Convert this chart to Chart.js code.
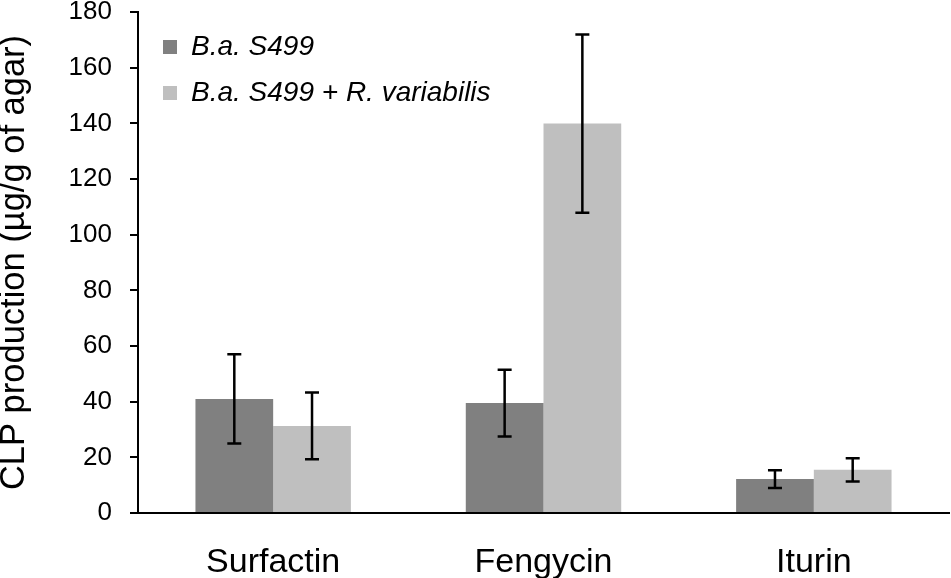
<!DOCTYPE html>
<html>
<head>
<meta charset="utf-8">
<script src="https://cdn.jsdelivr.net/npm/chart.js@4.4.1/dist/chart.umd.min.js"></script>
<style>
    html, body { margin: 0; padding: 0; background: #fff; }
    #wrap { width: 951px; height: 578px; position: relative; }
</style>
</head>
<body>
<div id="wrap"><canvas id="chart"></canvas></div>
<script>
// data
const categories = ['Surfactin', 'Fengycin', 'Iturin'];
const s499Values = [41, 39.5, 12.2];
const s499Errors = [16, 12, 3.2];
const coValues = [31.3, 139.9, 15.5];
const coErrors = [12, 32, 4.2];
const yTicks = [0, 20, 40, 60, 80, 100, 120, 140, 160, 180];

const FONT = '"Liberation Sans", Arial, sans-serif';

// error bars drawn from the bar elements and the y scale
const errorBars = {
    id: 'errorBars',
    afterDatasetsDraw(chart) {
        const ctx = chart.ctx;
        const y = chart.scales.y;
        chart.data.datasets.forEach((ds, i) => {
            const meta = chart.getDatasetMeta(i);
            meta.data.forEach((bar, j) => {
                const v = ds.data[j];
                const e = ds.errors[j];
                const top = y.getPixelForValue(v + e);
                const bot = y.getPixelForValue(v - e);
                ctx.save();
                ctx.strokeStyle = '#000';
                ctx.lineWidth = 2.5;
                ctx.beginPath();
                ctx.moveTo(bar.x, top);
                ctx.lineTo(bar.x, bot);
                ctx.moveTo(bar.x - 7, top);
                ctx.lineTo(bar.x + 7, top);
                ctx.moveTo(bar.x - 7, bot);
                ctx.lineTo(bar.x + 7, bot);
                ctx.stroke();
                ctx.restore();
            });
        });
    }
};

// put the legend in the upper left of the plot area
const legendNudge = {
    id: 'legendNudge',
    afterLayout(chart) {
        const lg = chart.legend;
        if (lg) {
            lg.left = chart.chartArea.left + 7;
            lg.top = chart.chartArea.top + 3;
        }
    }
};

new Chart(document.getElementById('chart'), {
    type: 'bar',
    data: {
        labels: categories,
        datasets: [
            {
                label: 'B.a. S499',
                data: s499Values,
                errors: s499Errors,
                backgroundColor: '#808080',
                borderWidth: 0
            },
            {
                label: 'B.a. S499 + R. variabilis',
                data: coValues,
                errors: coErrors,
                backgroundColor: '#bfbfbf',
                borderWidth: 0
            }
        ]
    },
    options: {
        responsive: true,
        maintainAspectRatio: false,
        animation: false,
        categoryPercentage: 0.575,
        barPercentage: 1,
        layout: { padding: { left: 0, right: 2, top: 12, bottom: 0 } },
        plugins: {
            tooltip: { enabled: false },
            legend: {
                position: 'chartArea',
                align: 'start',
                fullSize: false,
                labels: {
                    boxWidth: 14,
                    boxHeight: 14,
                    padding: 18,
                    color: '#000',
                    font: { family: FONT, size: 28, style: 'italic' }
                }
            }
        },
        scales: {
            x: {
                grid: { display: false, drawTicks: false },
                border: { display: true, color: '#000', width: 2 },
                ticks: {
                    color: '#000',
                    padding: 29,
                    font: { family: FONT, size: 34 }
                },
                afterFit(scale) { scale.height = 65; }
            },
            y: {
                min: 0,
                max: 180,
                afterBuildTicks(scale) {
                    scale.ticks = yTicks.map(v => ({ value: v }));
                },
                grid: {
                    drawOnChartArea: false,
                    drawTicks: true,
                    tickLength: 8,
                    color: '#000',
                    lineWidth: 2
                },
                border: { display: true, color: '#000', width: 2 },
                ticks: {
                    color: '#000',
                    padding: 18,
                    font: { family: FONT, size: 26, lineHeight: 1 }
                },
                title: {
                    display: true,
                    text: 'CLP production (µg/g of agar)',
                    color: '#000',
                    padding: { top: 0, bottom: 0 },
                    font: { family: FONT, size: 34.5, lineHeight: 0.82 }
                },
                afterFit(scale) {
                    scale.width = 138;
                    scale.paddingTop = 0;
                    scale.paddingBottom = 0;
                }
            }
        }
    },
    plugins: [errorBars, legendNudge]
});
</script>
</body>
</html>
